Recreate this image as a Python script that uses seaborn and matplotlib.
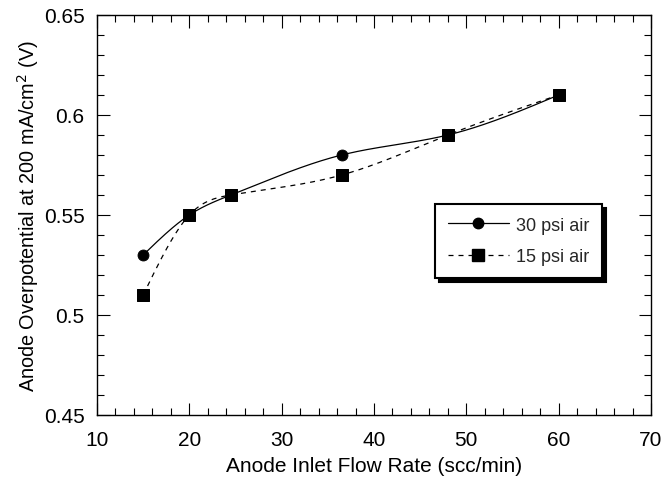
import numpy as np
import pandas as pd
import matplotlib
matplotlib.use("Agg")
import matplotlib.pyplot as plt
from matplotlib.lines import Line2D
from matplotlib.ticker import MultipleLocator, FormatStrFormatter
import seaborn as sns

# Measured anode overpotential vs. anode inlet flow rate
flow_rate = [15, 20, 24.5, 36.5, 48, 60]
overpot_30psi = [0.53, 0.55, 0.56, 0.58, 0.59, 0.61]
overpot_15psi = [0.51, 0.55, 0.56, 0.57, 0.59, 0.61]
series_labels = ["30 psi air", "15 psi air"]

x_ticks = [10, 20, 30, 40, 50, 60, 70]
y_ticks = [0.45, 0.5, 0.55, 0.6, 0.65]


def natural_spline(x, y, n=300):
    """Natural cubic spline through (x, y), sampled on n points."""
    x = np.asarray(x, float)
    y = np.asarray(y, float)
    k = len(x)
    h = np.diff(x)
    A = np.zeros((k, k))
    b = np.zeros(k)
    A[0, 0] = A[-1, -1] = 1.0
    for i in range(1, k - 1):
        A[i, i - 1] = h[i - 1]
        A[i, i] = 2 * (h[i - 1] + h[i])
        A[i, i + 1] = h[i]
        b[i] = 3 * ((y[i + 1] - y[i]) / h[i] - (y[i] - y[i - 1]) / h[i - 1])
    c = np.linalg.solve(A, b)
    bb = (np.diff(y) / h) - h * (2 * c[:-1] + c[1:]) / 3
    d = np.diff(c) / (3 * h)
    xs = np.linspace(x[0], x[-1], n)
    idx = np.clip(np.searchsorted(x, xs) - 1, 0, k - 2)
    dx = xs - x[idx]
    ys = y[idx] + bb[idx] * dx + c[idx] * dx ** 2 + d[idx] * dx ** 3
    return xs, ys


sns.set_theme(style="ticks")
plt.rcParams["font.family"] = ["Liberation Sans", "DejaVu Sans"]

fig = plt.figure(figsize=(6.65, 4.81), dpi=100)
fig.subplots_adjust(left=97 / 665, right=651 / 665, top=1 - 16 / 481, bottom=1 - 416 / 481)
ax = fig.add_subplot(111)

xs30, ys30 = natural_spline(flow_rate, overpot_30psi)
xs15, ys15 = natural_spline(flow_rate, overpot_15psi)
curves = pd.DataFrame({"x": xs30, "y": ys30})
curves15 = pd.DataFrame({"x": xs15, "y": ys15})

sns.lineplot(data=curves, x="x", y="y", ax=ax, color="black", lw=0.9,
             sort=False, estimator=None)
sns.lineplot(data=curves15, x="x", y="y", ax=ax, color="black", lw=0.9,
             sort=False, estimator=None, dashes=False)
ax.lines[-1].set_dashes([4, 4])

pts30 = pd.DataFrame({"x": flow_rate, "y": overpot_30psi})
pts15 = pd.DataFrame({"x": flow_rate, "y": overpot_15psi})
sns.scatterplot(data=pts30, x="x", y="y", ax=ax, marker="o", s=62,
                color="black", edgecolor="black", zorder=3)
sns.scatterplot(data=pts15, x="x", y="y", ax=ax, marker="s", s=80,
                color="black", edgecolor="black", zorder=4)

ax.set_xlim(10, 70)
ax.set_ylim(0.45, 0.65)
ax.set_xticks(x_ticks)
ax.set_yticks(y_ticks)
ax.xaxis.set_minor_locator(MultipleLocator(2))
ax.yaxis.set_minor_locator(MultipleLocator(0.01))
ax.yaxis.set_major_formatter(FormatStrFormatter("%g"))
ax.tick_params(which="both", direction="in", top=True, right=True,
               color="black", width=0.8, labelsize=15, labelcolor="black")
ax.tick_params(which="major", length=9)
ax.tick_params(axis="x", which="major", pad=11)
ax.tick_params(axis="y", which="major", pad=9)
ax.tick_params(which="minor", length=5)
for sp in ax.spines.values():
    sp.set_visible(True)
    sp.set_color("black")
    sp.set_linewidth(1.0)

ax.set_xlabel("Anode Inlet Flow Rate (scc/min)", fontsize=15, color="black", labelpad=5)
ax.set_ylabel("Anode Overpotential at 200 mA/cm$^2$ (V)", fontsize=14.3,
              color="black", labelpad=2)

handles = [
    Line2D([], [], color="black", lw=0.9, marker="o", markersize=7.5,
           linestyle="-"),
    Line2D([], [], color="black", lw=0.9, marker="s", markersize=8.5,
           linestyle=(0, (4, 4))),
]
leg = ax.legend(handles, series_labels, loc="upper left",
                bbox_to_anchor=(0.61, 0.5275), borderaxespad=0,
                fontsize=13, handlelength=3.4, handletextpad=0.4,
                labelspacing=0.8, borderpad=0.7, fancybox=False,
                frameon=True, edgecolor="black", framealpha=1,
                shadow={"ox": 3, "oy": -3, "color": "black", "alpha": 1})
leg.get_frame().set_linewidth(1.5)

fig.savefig("out.png", dpi=100)
